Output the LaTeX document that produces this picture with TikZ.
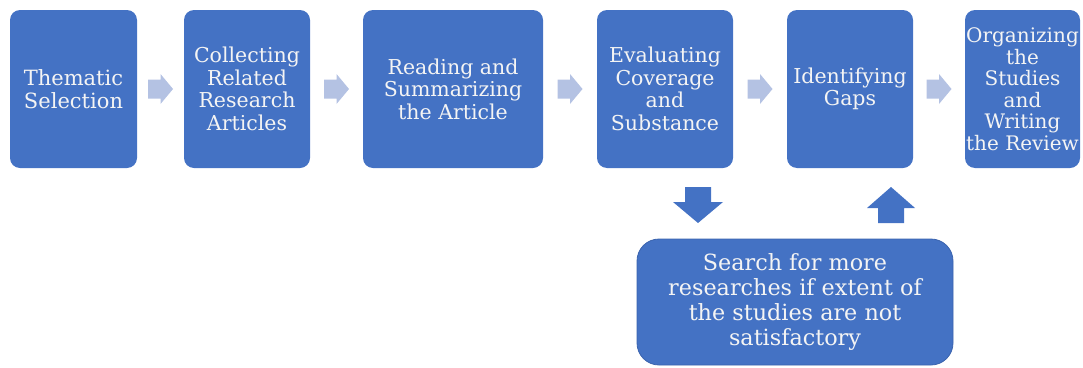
\documentclass[tikz,border=0pt]{standalone}
\usepackage{fontspec}
\setmainfont{DejaVu Serif}
\usetikzlibrary{calc}
\definecolor{boxblue}{HTML}{4472C4}
\definecolor{arrowlight}{HTML}{B4C2E3}
\definecolor{txtwhite}{HTML}{F4F4F4}
\definecolor{edgeblue}{HTML}{3A63AE}
\tikzset{
  stepbox/.style={rectangle, rounded corners=10pt, fill=boxblue, text=txtwhite,
    inner sep=0pt, align=center, minimum height=158pt,
    font=\fontsize{20.5}{22.5}\selectfont},
  bottombox/.style={rectangle, rounded corners=22pt, fill=boxblue, draw=edgeblue,
    line width=0.8pt, text=txtwhite, inner sep=0pt, align=center,
    font=\fontsize{22.3}{25}\selectfont},
  rarrow/.pic={\fill[arrowlight] (-12.5,-9.5) -- (0,-9.5) -- (0,-15) -- (12.5,0)
     -- (0,15) -- (0,9.5) -- (-12.5,9.5) -- cycle;},
  darrow/.pic={\fill[boxblue] (-13,0) -- (13,0) -- (13,15) -- (25,15) -- (0,36)
     -- (-25,15) -- (-13,15) -- cycle;},
  uarrow/.pic={\fill[boxblue] (0,0) -- (24,21) -- (13,21) -- (13,36) -- (-13,36)
     -- (-13,21) -- (-24,21) -- cycle;}
}
\begin{document}
\begin{tikzpicture}[x=1pt,y=-1pt]
\useasboundingbox (0,0) rectangle (1083,367);
\node[stepbox, minimum width=127pt, font=\fontsize{21}{22.5}\selectfont] (b1) at (73.5,89) {Thematic\\Selection};
\node[stepbox, minimum width=126pt] (b2) at (247,89) {Collecting\\Related\\Research\\Articles};
\node[stepbox, minimum width=180pt] (b3) at (453,89) {Reading and\\Summarizing\\the Article};
\node[stepbox, minimum width=136pt] (b4) at (665,89) {Evaluating\\Coverage\\and\\Substance};
\node[stepbox, minimum width=126pt] (b5) at (850,89) {Identifying\\Gaps};
\node[stepbox, minimum width=115pt, font=\fontsize{20}{21.5}\selectfont] (b6) at (1022.5,89) {Organizing\\the\\Studies\\and\\Writing\\the Review};
\node[bottombox, minimum width=316pt, minimum height=126pt] (bb) at (795,302)
  {Search for more\\researches if extent of\\the studies are not\\satisfactory};
\pic at ($(b1.east)!0.5!(b2.west)$) {rarrow};
\pic at ($(b2.east)!0.5!(b3.west)$) {rarrow};
\pic at ($(b3.east)!0.5!(b4.west)$) {rarrow};
\pic at ($(b4.east)!0.5!(b5.west)$) {rarrow};
\pic at ($(b5.east)!0.5!(b6.west)$) {rarrow};
\coordinate (dn) at (698,187);
\coordinate (up) at (891,187);
\pic at (dn) {darrow};
\pic at (up) {uarrow};
\end{tikzpicture}
\end{document}
